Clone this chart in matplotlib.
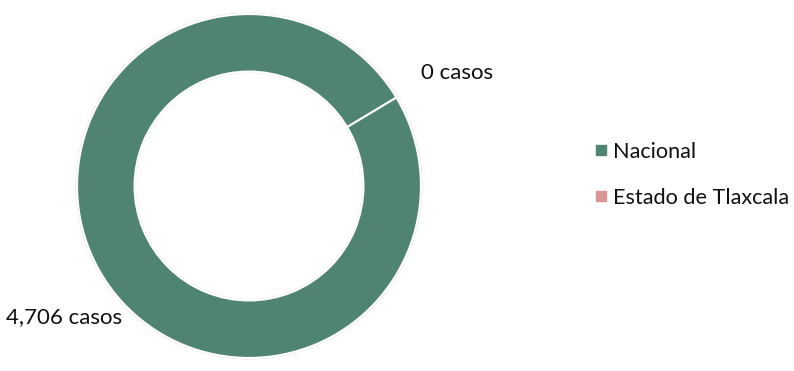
import matplotlib
matplotlib.use("Agg")
import matplotlib.pyplot as plt
from matplotlib.lines import Line2D

# Datos
categorias = ["Nacional", "Estado de Tlaxcala"]
casos = [4706, 0]
etiquetas = ["4,706 casos", "0 casos"]
colores = ["#4F8470", "#D99594"]

plt.rcParams['font.family'] = ['Lato', 'DejaVu Sans']

fig = plt.figure(figsize=(7.94, 3.71), dpi=100)
fig.patch.set_facecolor("white")

# Ejes del anillo (centro ~ (249,186) px, radio ~172 px)
ax = fig.add_axes([77 / 794, 13 / 371, 344 / 794, 344 / 371])

# sombra suave
ax.pie([1], radius=1.008, colors=["#D8D8D8"], startangle=90,
       wedgeprops=dict(width=0.35, linewidth=0))

wedges, _ = ax.pie(casos, radius=1.0, colors=colores, startangle=31,
                   counterclock=False,
                   wedgeprops=dict(width=0.335, edgecolor="white", linewidth=1.6))
ax.set_xlim(-1, 1)
ax.set_ylim(-1, 1)

# Etiquetas de datos
ax.text(1.0, 0.655, etiquetas[1], fontsize=16, color="#111111",
        ha="left", va="center")
ax.text(-0.735, -0.765, etiquetas[0], fontsize=16, color="#111111",
        ha="right", va="center")

# Leyenda
handles = [Line2D([], [], marker='s', linestyle='none', markersize=7.5,
                  markerfacecolor=c, markeredgecolor=c) for c in colores]
fig.legend(handles, categorias, loc="center left",
           bbox_to_anchor=(596 / 794, 1 - 175 / 371), frameon=False,
           fontsize=15.6, handlelength=0.5, handletextpad=0.3,
           labelspacing=1.2, borderpad=0, borderaxespad=0,
           labelcolor="#111111")

fig.savefig("out.png", dpi=100, facecolor="white")
